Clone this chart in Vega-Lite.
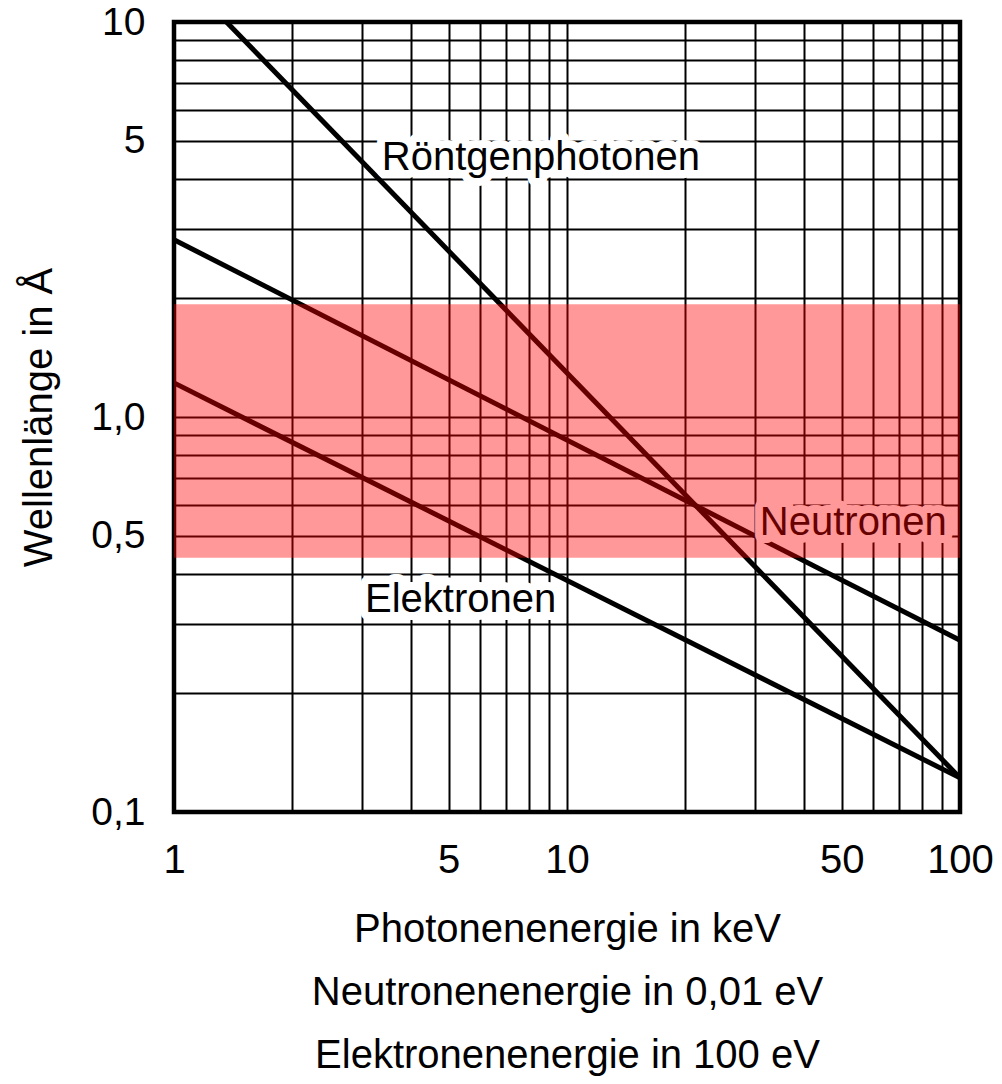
{
  "$schema": "https://vega.github.io/schema/vega-lite/v6.json",
  "width": 786,
  "height": 790,
  "autosize": {"type": "none"},
  "padding": {"left": 174, "top": 22, "right": 42, "bottom": 272},
  "background": "white",
  "config": {
    "view": {"stroke": "black", "strokeWidth": 4.5, "fill": "white"},
    "axis": {
      "labelFont": "Liberation Sans",
      "titleFont": "Liberation Sans",
      "labelColor": "black",
      "titleColor": "black",
      "titleFontWeight": "normal",
      "domain": false,
      "ticks": false,
      "tickSize": 0,
      "grid": true,
      "gridColor": "black",
      "gridWidth": 2,
      "gridOpacity": 1,
      "labelOverlap": false,
      "labelBound": false,
      "labelFlush": false
    }
  },
  "datasets": {
    "kurven": [
      {"series": "Röntgenphotonen", "x": 1.36, "y": 10},
      {"series": "Röntgenphotonen", "x": 100, "y": 0.122},
      {"series": "Neutronen", "x": 1, "y": 2.81},
      {"series": "Neutronen", "x": 100, "y": 0.272},
      {"series": "Elektronen", "x": 1, "y": 1.22},
      {"series": "Elektronen", "x": 100, "y": 0.122}
    ],
    "beschriftung": [
      {"label": "Röntgenphotonen", "x": 8.58, "y": 4.22},
      {"label": "Neutronen", "x": 53.5, "y": 0.502},
      {"label": "Elektronen", "x": 5.36, "y": 0.32}
    ],
    "bereich": [
      {"x": 1, "x2": 100, "y": 0.44, "y2": 1.93}
    ]
  },
  "encoding": {
    "x": {
      "field": "x",
      "type": "quantitative",
      "scale": {"type": "log", "domain": [1, 100], "nice": false},
      "axis": {
        "values": [1, 2, 3, 4, 5, 6, 7, 8, 9, 10, 20, 30, 40, 50, 60, 70, 80, 90, 100],
        "labelExpr": "indexof([1,5,10,50,100], datum.value) >= 0 ? format(datum.value, 'd') : ''",
        "labelFontSize": 40,
        "labelPadding": 28,
        "title": ["Photonenenergie in keV", "Neutronenenergie in 0,01 eV", "Elektronenenergie in 100 eV"],
        "titleFontSize": 40,
        "titleLineHeight": 63,
        "titlePadding": 29
      }
    },
    "y": {
      "field": "y",
      "type": "quantitative",
      "scale": {"type": "log", "domain": [0.1, 10], "nice": false},
      "axis": {
        "values": [0.1, 0.2, 0.3, 0.4, 0.5, 0.6, 0.7, 0.8, 0.9, 1, 2, 3, 4, 5, 6, 7, 8, 9, 10],
        "labelExpr": "datum.value == 10 ? '10' : datum.value == 5 ? '5' : datum.value == 1 ? '1,0' : datum.value == 0.5 ? '0,5' : datum.value == 0.1 ? '0,1' : ''",
        "labelFontSize": 39,
        "labelPadding": 29,
        "title": "Wellenlänge in Å",
        "titleFontSize": 40,
        "titlePadding": 31
      }
    }
  },
  "layer": [
    {
      "data": {"name": "kurven"},
      "mark": {"type": "line", "color": "black", "strokeWidth": 5, "strokeCap": "butt"},
      "encoding": {"detail": {"field": "series"}}
    },
    {
      "data": {"name": "beschriftung"},
      "mark": {"type": "text", "font": "Liberation Sans", "fontSize": 40, "align": "center", "baseline": "alphabetic", "fill": "white", "stroke": "white", "strokeWidth": 16, "strokeJoin": "round"},
      "encoding": {"text": {"field": "label"}}
    },
    {
      "data": {"name": "beschriftung"},
      "mark": {"type": "text", "font": "Liberation Sans", "fontSize": 40, "align": "center", "baseline": "alphabetic", "color": "black"},
      "encoding": {"text": {"field": "label"}}
    },
    {
      "data": {"name": "bereich"},
      "mark": {"type": "rect", "color": "#ff0000", "opacity": 0.4},
      "encoding": {"x2": {"field": "x2"}, "y2": {"field": "y2"}}
    }
  ]
}
